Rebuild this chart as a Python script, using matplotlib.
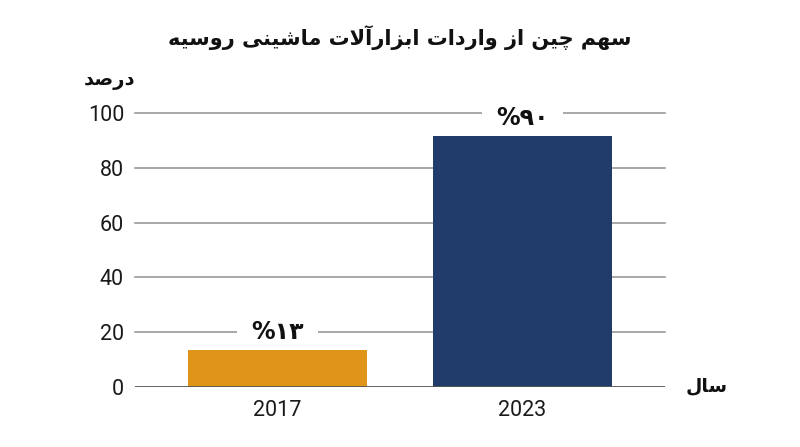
import matplotlib
matplotlib.use("Agg")
import matplotlib.pyplot as plt

# chart data
years = ["2017", "2023"]
shares = [13.5, 91.5]
share_labels = ["%۱۳", "%۹۰"]
bar_colors = ["#DE951A", "#213B6B"]
y_ticks = [0, 20, 40, 60, 80, 100]

title_text = "سهم چین از واردات ابزارآلات ماشینی روسیه"
ylabel_text = "درصد"
xlabel_text = "سال"

# tiny arabic/persian shaper: (isolated, final, initial, medial)
FORMS = {
    "ا": (0xFE8D, 0xFE8E, None, None),
    "آ": (0xFE81, 0xFE82, None, None),
    "ب": (0xFE8F, 0xFE90, 0xFE91, 0xFE92),
    "ت": (0xFE95, 0xFE96, 0xFE97, 0xFE98),
    "د": (0xFEA9, 0xFEAA, None, None),
    "ر": (0xFEAD, 0xFEAE, None, None),
    "ز": (0xFEAF, 0xFEB0, None, None),
    "س": (0xFEB1, 0xFEB2, 0xFEB3, 0xFEB4),
    "ش": (0xFEB5, 0xFEB6, 0xFEB7, 0xFEB8),
    "ص": (0xFEB9, 0xFEBA, 0xFEBB, 0xFEBC),
    "ل": (0xFEDD, 0xFEDE, 0xFEDF, 0xFEE0),
    "م": (0xFEE1, 0xFEE2, 0xFEE3, 0xFEE4),
    "ن": (0xFEE5, 0xFEE6, 0xFEE7, 0xFEE8),
    "ه": (0xFEE9, 0xFEEA, 0xFEEB, 0xFEEC),
    "و": (0xFEED, 0xFEEE, None, None),
    "چ": (0xFB7A, 0xFB7B, 0xFB7C, 0xFB7D),
    "ی": (0xFBFC, 0xFBFD, 0xFBFE, 0xFBFF),
}
LAM_ALEF = {"ا": (0xFEFB, 0xFEFC), "آ": (0xFEF5, 0xFEF6)}


def dual(c):
    return c in FORMS and FORMS[c][2] is not None


def shape(text):
    # merge lam + alef first
    chars = []
    i = 0
    while i < len(text):
        c = text[i]
        if c == "ل" and i + 1 < len(text) and text[i + 1] in LAM_ALEF:
            chars.append(("LA", text[i + 1]))
            i += 2
        else:
            chars.append((c, None))
            i += 1
    out = []
    for k, (c, extra) in enumerate(chars):
        prev = chars[k - 1][0] if k > 0 else None
        nxt = chars[k + 1][0] if k + 1 < len(chars) else None
        join_prev = prev is not None and prev != "LA" and dual(prev)
        if c == "LA":
            iso, fin = LAM_ALEF[extra]
            out.append(chr(fin if join_prev else iso))
            continue
        if c not in FORMS:
            out.append(c)
            continue
        iso, fin, ini, med = FORMS[c]
        join_next = dual(c) and nxt is not None and (nxt in FORMS or nxt == "LA")
        if join_prev and join_next:
            out.append(chr(med))
        elif join_prev:
            out.append(chr(fin))
        elif join_next:
            out.append(chr(ini))
        else:
            out.append(chr(iso))
    return "".join(out)[::-1]


plt.rcParams["font.family"] = ["Roboto", "DejaVu Sans"]

fig = plt.figure(figsize=(8, 4.47), dpi=100)
ax = fig.add_axes([0.169, 0.1342, 0.662, 0.613])

x = range(len(years))
bars = ax.bar(x, shares, width=0.727, color=bar_colors, zorder=3)

ax.set_xlim(-0.58, 1.58)
ax.set_ylim(0, 100)
ax.set_yticks(y_ticks)
ax.set_xticks(list(x))
ax.set_xticklabels(years)
ax.tick_params(axis="both", length=0, labelsize=15.5, colors="#1a1a1a")
ax.tick_params(axis="y", pad=8)
ax.tick_params(axis="x", pad=9)
for s in ax.spines.values():
    s.set_visible(False)

for t in y_ticks:
    if t == 0:
        ax.axhline(t, color="#555555", lw=1.3, zorder=4)
    else:
        ax.axhline(t, color="#9a9a9a", lw=1.2, zorder=1, clip_on=False)

for b, lab in zip(bars, share_labels):
    ax.annotate(lab, (b.get_x() + b.get_width() / 2, b.get_height()),
                xytext=(0, 13), textcoords="offset points",
                ha="center", va="center", fontsize=17, fontweight="bold",
                family=["DejaVu Sans"], color="#111111", zorder=2,
                annotation_clip=False,
                bbox=dict(boxstyle="square,pad=0.6", fc="white", ec="none"))

fig.text(0.5, 0.915, shape(title_text), ha="center", va="center",
         fontsize=15, fontweight="bold", family=["DejaVu Sans"], color="#111111")
fig.text(0.169, 0.82, shape(ylabel_text), ha="right", va="center",
         fontsize=14, fontweight="bold", family=["DejaVu Sans"], color="#111111")
fig.text(0.857, 0.138, shape(xlabel_text), ha="left", va="center",
         fontsize=13.5, fontweight="bold", family=["DejaVu Sans"], color="#111111")

fig.savefig("out.png", dpi=100, facecolor="white")
